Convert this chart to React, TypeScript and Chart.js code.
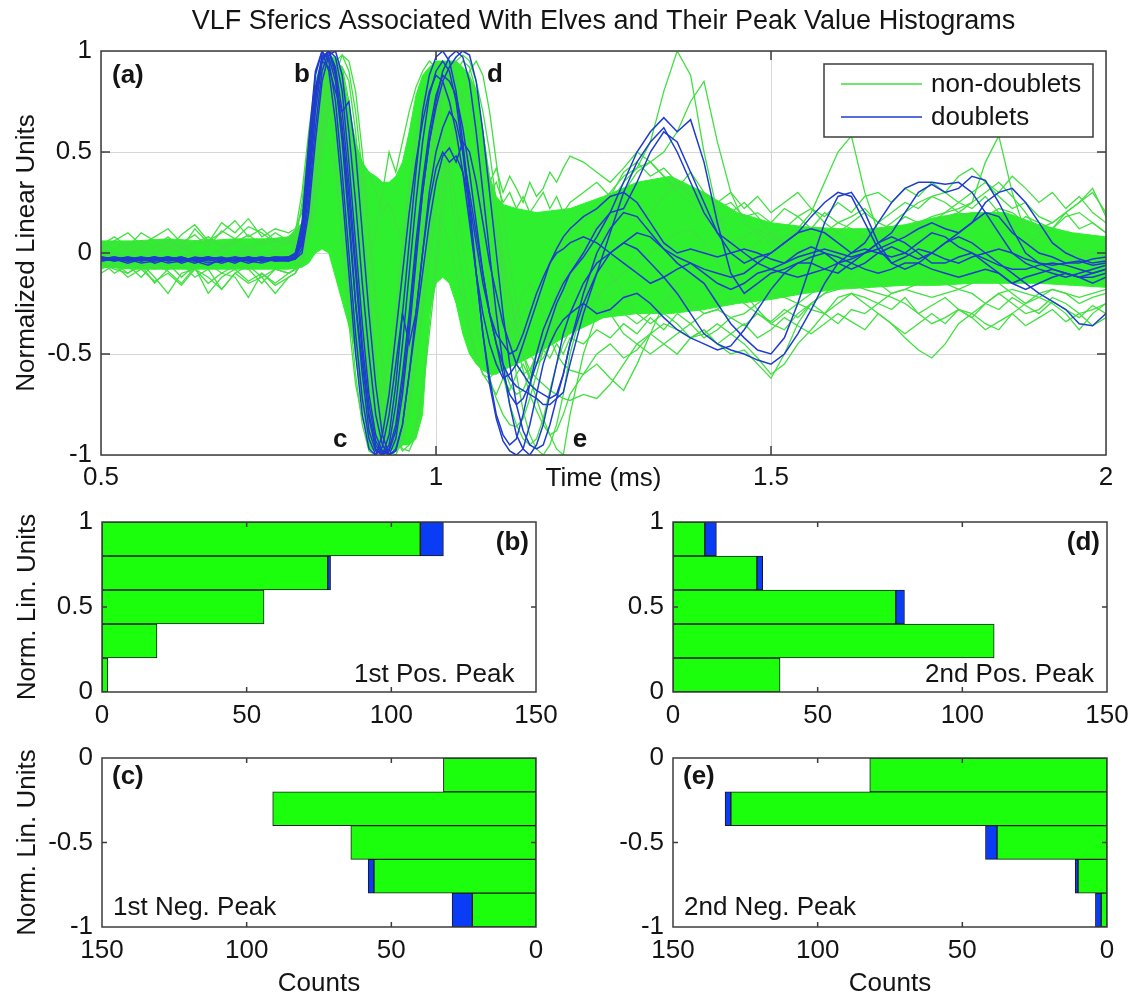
import React, { useEffect, useRef } from "react";
import { Chart, registerables } from "chart.js";

Chart.register(...registerables);

const FONT_FAMILY = '"Liberation Sans", Arial, Helvetica, sans-serif';
Chart.defaults.font.family = FONT_FAMILY;
const TEXT = "#141414";
const FRAME = "#3c3c3c";
const LINE_GREEN = "#40e040";
const BAND_GREEN = "#2ef02e";
const LINE_BLUE = "#1f3ccf";
const BAR_GREEN = "#1cff0c";
const BAR_BLUE = "#0a3cf5";
const BAR_EDGE = "#1a1a1a";

const TITLE = "VLF Sferics Associated With Elves and Their Peak Value Histograms";
const X_TITLE = "Time (ms)";
const Y_TITLE = "Normalized Linear Units";
const HIST_Y_TITLE = "Norm. Lin. Units";
const HIST_X_TITLE = "Counts";
const LEGEND_LABELS = ["non-doublets", "doublets"];

// ---------- tick values ----------
const X_TICKS = [0.5, 1, 1.5, 2];
const Y_TICKS = [-1, -0.5, 0, 0.5, 1];
const COUNT_TICKS = [0, 50, 100, 150];
const POS_TICKS = [0, 0.5, 1];
const NEG_TICKS = [-1, -0.5, 0];

// ---------- sample times (ms) ----------
const TIMES = [
  0.5, 0.52, 0.54, 0.56, 0.58, 0.6, 0.62, 0.64, 0.66, 0.68, 0.7, 0.72, 0.74, 0.76,
  0.78, 0.79, 0.8, 0.81, 0.82, 0.83, 0.84, 0.85, 0.86, 0.87, 0.88, 0.89, 0.9, 0.91, 0.92, 0.93, 0.94, 0.95, 0.96, 0.97,
  0.98, 0.99, 1.0, 1.01, 1.02, 1.03, 1.04, 1.05, 1.06, 1.07, 1.08, 1.09, 1.1, 1.11, 1.12, 1.13, 1.14, 1.15, 1.16, 1.17,
  1.18, 1.19, 1.2,
  1.22, 1.24, 1.26, 1.28, 1.3, 1.32, 1.34, 1.36, 1.38, 1.4, 1.42, 1.44, 1.46, 1.48, 1.5, 1.52, 1.54, 1.56, 1.58, 1.6,
  1.62, 1.64, 1.66, 1.68, 1.7, 1.72, 1.74, 1.76, 1.78, 1.8, 1.82, 1.84, 1.86, 1.88, 1.9, 1.92, 1.94, 1.96, 1.98, 2.0,
];

// dense core of the non-doublet bundle (upper / lower envelope)
const BAND_T = [
  0.5, 0.55, 0.6, 0.65, 0.7, 0.75, 0.78,
  0.8, 0.81, 0.82, 0.83, 0.84, 0.85, 0.86, 0.87, 0.88, 0.89,
  0.9, 0.91, 0.92, 0.93, 0.94, 0.95, 0.96, 0.97, 0.98, 0.99,
  1.0, 1.01, 1.02, 1.03, 1.04, 1.05, 1.06, 1.07, 1.08, 1.09,
  1.1, 1.12, 1.15,
  1.2, 1.25, 1.3, 1.35, 1.4, 1.45, 1.5, 1.55, 1.6, 1.65, 1.7, 1.75, 1.8, 1.85, 1.9, 1.95, 2.0,
];
const BAND_HI = [
  0.06, 0.06, 0.07, 0.06, 0.07, 0.07, 0.08,
  0.15, 0.45, 0.8, 0.95, 0.97, 0.97, 0.9, 0.72, 0.55, 0.45,
  0.4, 0.38, 0.35, 0.35, 0.38, 0.45, 0.6, 0.78, 0.88, 0.92,
  0.95, 0.95, 0.95, 0.95, 0.92, 0.88, 0.8, 0.6, 0.38, 0.28,
  0.24, 0.22, 0.2,
  0.22, 0.28, 0.35, 0.38, 0.3, 0.2, 0.15, 0.13, 0.12, 0.12, 0.14, 0.18, 0.2, 0.2, 0.14, 0.1, 0.08,
];
const BAND_LO = [
  -0.07, -0.08, -0.08, -0.08, -0.08, -0.08, -0.08,
  -0.07, -0.05, 0.0, 0.02, 0.0, -0.12, -0.24, -0.36, -0.48, -0.75,
  -0.97, -0.98, -0.98, -0.98, -0.97, -0.95, -0.95, -0.92, -0.8, -0.3,
  -0.15, -0.12, -0.15, -0.25, -0.4, -0.5, -0.55, -0.58, -0.6, -0.6,
  -0.58, -0.55, -0.5,
  -0.4, -0.32, -0.3, -0.3, -0.28, -0.25, -0.23, -0.2, -0.18, -0.17, -0.16, -0.16, -0.15, -0.15, -0.15, -0.16, -0.17,
];

// ---------- non-doublet traces ----------
const GREEN_1 = [
  0.0, 0.02, 0.05, 0.0, 0.03, 0.08, 0.02, 0.12, 0.05, 0.15, 0.1, 0.17, 0.08, 0.12,
  0.1, 0.12, 0.2, 0.35, 0.55, 0.7, 0.78, 0.72, 0.5, 0.2, -0.15, -0.45, -0.65, -0.75, -0.8, -0.72, -0.55, -0.3, 0.0, 0.3,
  0.55, 0.72, 0.8, 0.82, 0.75, 0.6, 0.4, 0.2, 0.0, -0.15, -0.25, -0.3, -0.35, -0.38, -0.35, -0.3, -0.25, -0.2, -0.12, -0.05,
  0.0, 0.05, 0.1,
  0.15, 0.22, 0.3, 0.38, 0.42, 0.55, 0.8, 1.0, 0.88, 0.5, 0.2, 0.05, 0.0, 0.05, 0.1, 0.05, 0.0, 0.02, 0.05, 0.1,
  0.05, 0.08, 0.12, 0.1, 0.05, 0.1, 0.15, 0.2, 0.25, 0.22, 0.28, 0.2, 0.1, 0.05, 0.08, 0.12, 0.18, 0.2, 0.15, 0.1,
];
const GREEN_2 = [
  -0.05, -0.08, -0.1, -0.05, -0.12, -0.2, -0.1, -0.08, -0.15, -0.1, -0.12, -0.22, -0.1, -0.15,
  -0.1, -0.08, -0.05, 0.1, 0.3, 0.55, 0.75, 0.88, 0.92, 0.85, 0.6, 0.25, -0.15, -0.5, -0.78, -0.92, -0.98, -0.95, -0.8, -0.55,
  -0.25, 0.05, 0.35, 0.6, 0.78, 0.9, 0.95, 0.92, 0.8, 0.6, 0.35, 0.1, -0.15, -0.4, -0.6, -0.78, -0.9, -0.97, -1.0, -0.95,
  -0.85, -0.7, -0.5,
  -0.25, 0.0, 0.15, 0.3, 0.4, 0.45, 0.5, 0.6, 0.75, 0.85, 0.55, 0.3, 0.15, 0.1, 0.05, 0.08, 0.12, 0.1, 0.05, 0.0,
  -0.02, 0.0, 0.05, 0.08, 0.1, 0.15, 0.18, 0.2, 0.22, 0.25, 0.3, 0.35, 0.28, 0.2, 0.1, 0.05, 0.0, 0.02, 0.0, -0.02,
];
const GREEN_3 = [
  0.02, 0.0, -0.02, 0.03, 0.0, 0.02, 0.05, 0.0, -0.03, 0.02, 0.04, 0.0, 0.06, 0.03,
  0.05, 0.1, 0.3, 0.6, 0.85, 0.95, 0.85, 0.6, 0.25, -0.15, -0.5, -0.75, -0.88, -0.92, -0.85, -0.65, -0.35, 0.0, 0.3, 0.55,
  0.72, 0.78, 0.72, 0.55, 0.35, 0.1, -0.15, -0.35, -0.5, -0.6, -0.62, -0.58, -0.5, -0.4, -0.3, -0.2, -0.15, -0.2, -0.3, -0.42,
  -0.5, -0.55, -0.58,
  -0.6, -0.55, -0.62, -0.68, -0.55, -0.4, -0.25, -0.15, -0.1, -0.15, -0.2, -0.15, -0.1, -0.05, 0.0, 0.05, 0.12, 0.2, 0.35, 0.5,
  0.58, 0.3, 0.1, 0.0, -0.05, -0.02, 0.0, 0.05, 0.02, -0.02, 0.0, 0.03, 0.0, -0.03, -0.05, -0.08, -0.05, -0.02, 0.0, -0.03,
];
const GREEN_4 = [
  0.03, 0.0, 0.02, -0.02, 0.0, 0.03, 0.0, -0.04, 0.02, 0.0, -0.02, 0.03, 0.0, 0.02,
  0.0, 0.03, 0.1, 0.3, 0.5, 0.6, 0.55, 0.4, 0.1, -0.25, -0.6, -0.85, -0.98, -1.0, -0.95, -0.88, -0.8, -0.65, -0.45, -0.2,
  0.1, 0.4, 0.65, 0.8, 0.88, 0.85, 0.78, 0.7, 0.55, 0.35, 0.12, -0.1, -0.3, -0.45, -0.55, -0.6, -0.58, -0.5, -0.4, -0.3,
  -0.2, -0.12, -0.05,
  0.0, -0.05, -0.1, -0.2, -0.3, -0.35, -0.3, -0.35, -0.42, -0.38, -0.45, -0.5, -0.48, -0.55, -0.62, -0.5, -0.35, -0.25, -0.2, -0.15,
  -0.1, -0.05, 0.0, 0.05, 0.1, 0.12, 0.15, 0.18, 0.2, 0.25, 0.45, 0.58, 0.3, 0.1, 0.0, -0.05, -0.02, 0.0, -0.03, -0.05,
];
const GREEN_5 = [
  -0.05, -0.03, -0.06, -0.04, -0.08, -0.05, -0.12, -0.06, -0.05, -0.1, -0.06, -0.08, -0.15, -0.08,
  -0.1, -0.08, -0.02, 0.15, 0.45, 0.7, 0.85, 0.9, 0.8, 0.55, 0.2, -0.2, -0.55, -0.8, -0.95, -1.0, -0.98, -0.9, -0.75, -0.55,
  -0.3, -0.05, 0.2, 0.4, 0.55, 0.62, 0.65, 0.62, 0.55, 0.45, 0.3, 0.12, -0.05, -0.2, -0.35, -0.5, -0.62, -0.72, -0.82, -0.9,
  -0.97, -1.0, -0.8,
  -0.5, -0.3, -0.25, -0.3, -0.35, -0.3, -0.25, -0.2, -0.25, -0.3, -0.28, -0.22, -0.25, -0.3, -0.35, -0.3, -0.25, -0.28, -0.3, -0.25,
  -0.2, -0.25, -0.3, -0.35, -0.42, -0.48, -0.52, -0.45, -0.35, -0.3, -0.25, -0.2, -0.25, -0.3, -0.28, -0.22, -0.25, -0.3, -0.28, -0.25,
];
const GREEN_6 = [
  0.0, -0.02, 0.0, 0.02, -0.03, 0.0, 0.02, 0.0, -0.02, 0.03, 0.0, 0.02, -0.02, 0.0,
  0.0, 0.02, 0.08, 0.25, 0.5, 0.72, 0.88, 0.95, 0.92, 0.75, 0.45, 0.1, -0.25, -0.55, -0.75, -0.85, -0.88, -0.8, -0.6, -0.3,
  0.0, 0.3, 0.55, 0.75, 0.88, 0.95, 0.98, 0.95, 0.85, 0.7, 0.5, 0.25, 0.0, -0.2, -0.38, -0.5, -0.58, -0.62, -0.65, -0.68,
  -0.7, -0.72, -0.73,
  -0.7, -0.72, -0.65, -0.55, -0.45, -0.4, -0.35, -0.38, -0.42, -0.4, -0.35, -0.4, -0.45, -0.52, -0.6, -0.55, -0.45, -0.38, -0.3, -0.22,
  -0.2, -0.22, -0.25, -0.2, -0.18, -0.2, -0.22, -0.2, -0.18, -0.2, -0.25, -0.2, -0.18, -0.2, -0.22, -0.25, -0.3, -0.38, -0.3, -0.25,
];
const GREEN_7 = [
  0.03, 0.05, 0.02, 0.04, 0.0, 0.06, 0.03, 0.05, 0.08, 0.04, 0.06, 0.03, 0.05, 0.1,
  0.06, 0.05, 0.05, 0.08, 0.2, 0.45, 0.7, 0.88, 0.98, 0.95, 0.8, 0.5, 0.15, -0.2, -0.5, -0.75, -0.9, -0.97, -0.98, -0.9,
  -0.7, -0.4, -0.1, 0.2, 0.45, 0.65, 0.8, 0.9, 0.95, 0.88, 0.7, 0.45, 0.2, -0.05, -0.25, -0.4, -0.5, -0.55, -0.52, -0.45,
  -0.35, -0.25, -0.15,
  0.0, 0.15, 0.25, 0.35, 0.42, 0.45, 0.38, 0.3, 0.25, 0.18, 0.1, 0.05, 0.08, 0.12, 0.08, 0.05, 0.0, 0.05, 0.1, 0.15,
  0.12, 0.08, 0.1, 0.15, 0.2, 0.25, 0.28, 0.25, 0.2, 0.15, 0.18, 0.22, 0.2, 0.15, 0.12, 0.15, 0.2, 0.25, 0.3, 0.2,
];
const GREEN_8 = [
  -0.02, 0.0, -0.04, -0.02, 0.0, -0.05, -0.02, 0.0, -0.03, -0.06, -0.02, 0.0, -0.03, -0.05,
  -0.02, 0.05, 0.25, 0.55, 0.8, 0.9, 0.75, 0.45, 0.05, -0.35, -0.65, -0.82, -0.9, -0.85, -0.7, -0.5, -0.25, 0.05, 0.35, 0.6,
  0.75, 0.82, 0.78, 0.65, 0.45, 0.25, 0.05, -0.15, -0.35, -0.5, -0.62, -0.72, -0.8, -0.85, -0.86, -0.82, -0.72, -0.6, -0.48, -0.38,
  -0.3, -0.25, -0.2,
  -0.15, -0.2, -0.3, -0.4, -0.45, -0.5, -0.45, -0.4, -0.35, -0.3, -0.28, -0.32, -0.3, -0.25, -0.2, -0.22, -0.25, -0.2, -0.15, -0.12,
  -0.15, -0.18, -0.2, -0.22, -0.25, -0.3, -0.35, -0.32, -0.28, -0.3, -0.35, -0.38, -0.3, -0.25, -0.2, -0.18, -0.2, -0.22, -0.2, -0.18,
];
const GREEN_9 = [
  0.05, 0.02, 0.04, 0.06, 0.03, 0.05, 0.02, 0.04, 0.07, 0.03, 0.05, 0.09, 0.04, 0.06,
  0.05, 0.04, 0.1, 0.35, 0.65, 0.82, 0.9, 0.85, 0.65, 0.35, 0.0, -0.35, -0.62, -0.82, -0.92, -0.95, -0.9, -0.75, -0.5, -0.2,
  0.15, 0.45, 0.68, 0.82, 0.9, 0.88, 0.75, 0.55, 0.3, 0.05, -0.2, -0.4, -0.55, -0.65, -0.7, -0.68, -0.6, -0.5, -0.4, -0.3,
  -0.2, -0.12, -0.05,
  0.05, 0.12, 0.18, 0.2, 0.15, 0.2, 0.28, 0.35, 0.3, 0.22, 0.15, 0.2, 0.25, 0.18, 0.1, 0.12, 0.18, 0.22, 0.15, 0.1,
  0.15, 0.2, 0.15, 0.12, 0.18, 0.15, 0.1, 0.15, 0.2, 0.18, 0.15, 0.1, 0.12, 0.18, 0.15, 0.12, 0.2, 0.25, 0.32, 0.18,
];
const GREEN_10 = [
  -0.08, -0.05, -0.1, -0.06, -0.15, -0.08, -0.05, -0.12, -0.08, -0.18, -0.1, -0.06, -0.12, -0.2,
  -0.12, -0.1, 0.0, 0.2, 0.4, 0.62, 0.8, 0.88, 0.85, 0.65, 0.3, -0.1, -0.45, -0.72, -0.9, -0.98, -1.0, -0.92, -0.7, -0.4,
  -0.05, 0.3, 0.58, 0.78, 0.9, 0.95, 0.9, 0.75, 0.5, 0.2, -0.1, -0.38, -0.6, -0.75, -0.85, -0.92, -0.95, -0.92, -0.82, -0.68,
  -0.55, -0.45, -0.38,
  -0.3, -0.22, -0.15, -0.1, -0.05, 0.0, 0.05, 0.1, 0.12, 0.05, -0.05, -0.12, -0.2, -0.28, -0.35, -0.38, -0.3, -0.25, -0.2, -0.18,
  -0.15, -0.12, -0.15, -0.2, -0.18, -0.15, -0.12, -0.15, -0.18, -0.15, -0.12, -0.15, -0.2, -0.25, -0.22, -0.18, -0.2, -0.25, -0.22, -0.2,
];
const GREEN_11 = [
  0.04, 0.08, 0.03, 0.1, 0.06, 0.02, 0.09, 0.14, 0.06, 0.1, 0.16, 0.08, 0.12, 0.06,
  0.05, 0.08, 0.15, 0.35, 0.6, 0.78, 0.85, 0.8, 0.65, 0.5, 0.42, 0.35, 0.4, 0.3, 0.2, 0.25, 0.15, 0.05, 0.2, 0.45,
  0.7, 0.85, 0.9, 0.88, 0.8, 0.65, 0.5, 0.4, 0.32, 0.38, 0.3, 0.35, 0.25, 0.3, 0.22, 0.28, 0.2, 0.25, 0.3, 0.22,
  0.28, 0.2, 0.25,
  0.3, 0.35, 0.28, 0.4, 0.45, 0.38, 0.42, 0.35, 0.28, 0.3, 0.22, 0.25, 0.18, 0.2, 0.15, 0.22, 0.18, 0.12, 0.2, 0.15,
  0.18, 0.22, 0.15, 0.2, 0.25, 0.22, 0.28, 0.3, 0.25, 0.3, 0.35, 0.28, 0.22, 0.25, 0.18, 0.15, 0.2, 0.12, 0.15, 0.1,
];
const GREEN_12 = [
  -0.1, -0.06, -0.12, -0.08, -0.14, -0.1, -0.16, -0.08, -0.12, -0.18, -0.1, -0.15, -0.12, -0.08,
  -0.1, -0.08, 0.0, 0.15, 0.35, 0.55, 0.7, 0.78, 0.72, 0.55, 0.3, 0.0, -0.3, -0.55, -0.72, -0.8, -0.75, -0.6, -0.4, -0.2,
  -0.05, 0.1, 0.2, 0.15, 0.05, -0.1, -0.25, -0.4, -0.52, -0.6, -0.65, -0.7, -0.62, -0.68, -0.6, -0.55, -0.62, -0.55, -0.48, -0.52,
  -0.45, -0.5, -0.42,
  -0.45, -0.38, -0.42, -0.35, -0.4, -0.32, -0.38, -0.3, -0.35, -0.42, -0.38, -0.32, -0.36, -0.3, -0.34, -0.28, -0.32, -0.25, -0.3, -0.35,
  -0.28, -0.3, -0.25, -0.28, -0.22, -0.3, -0.26, -0.22, -0.28, -0.32, -0.25, -0.28, -0.22, -0.26, -0.3, -0.24, -0.28, -0.32, -0.26, -0.3,
];
const GREEN_13 = [
  0.02, 0.06, 0.1, 0.04, 0.08, 0.12, 0.05, 0.09, 0.03, 0.11, 0.07, 0.13, 0.1, 0.05,
  0.08, 0.1, 0.22, 0.5, 0.8, 0.92, 0.88, 0.7, 0.45, 0.2, 0.05, -0.1, -0.05, 0.1, 0.3, 0.5, 0.4, 0.55, 0.7, 0.82,
  0.9, 0.95, 0.92, 0.85, 0.72, 0.55, 0.42, 0.5, 0.38, 0.45, 0.35, 0.42, 0.3, 0.38, 0.32, 0.25, 0.35, 0.28, 0.32, 0.4,
  0.35, 0.42, 0.48,
  0.45, 0.4, 0.35, 0.42, 0.5, 0.45, 0.38, 0.32, 0.4, 0.3, 0.25, 0.3, 0.22, 0.28, 0.2, 0.25, 0.3, 0.22, 0.18, 0.25,
  0.2, 0.28, 0.3, 0.25, 0.32, 0.28, 0.35, 0.3, 0.38, 0.42, 0.35, 0.3, 0.38, 0.32, 0.25, 0.3, 0.22, 0.28, 0.2, 0.15,
];
const GREEN_14 = [
  -0.04, -0.1, -0.06, -0.12, -0.05, -0.09, -0.15, -0.07, -0.2, -0.12, -0.08, -0.14, -0.1, -0.16,
  -0.12, -0.1, -0.05, 0.1, 0.32, 0.6, 0.82, 0.95, 0.98, 0.9, 0.7, 0.4, 0.05, -0.3, -0.6, -0.8, -0.92, -0.98, -0.95, -0.85,
  -0.65, -0.35, 0.0, 0.3, 0.55, 0.7, 0.78, 0.75, 0.65, 0.5, 0.3, 0.1, -0.1, -0.3, -0.45, -0.58, -0.7, -0.78, -0.85, -0.9,
  -0.88, -0.8, -0.7,
  -0.6, -0.5, -0.45, -0.52, -0.48, -0.4, -0.45, -0.5, -0.42, -0.38, -0.45, -0.4, -0.35, -0.42, -0.38, -0.32, -0.36, -0.4, -0.35, -0.3,
  -0.34, -0.38, -0.3, -0.35, -0.4, -0.35, -0.3, -0.35, -0.28, -0.32, -0.38, -0.34, -0.3, -0.36, -0.32, -0.28, -0.34, -0.3, -0.36, -0.32,
];

// ---------- doublet traces ----------
const BLUE_1 = [
  -0.03, -0.02, -0.04, -0.03, -0.02, -0.04, -0.03, -0.05, -0.03, -0.02, -0.04, -0.03, -0.02, -0.03,
  -0.03, -0.02, 0.05, 0.35, 0.75, 0.97, 1.0, 0.9, 0.6, 0.2, -0.25, -0.6, -0.88, -0.98, -1.0, -0.95, -0.75, -0.45, -0.1, 0.25,
  0.55, 0.78, 0.9, 0.95, 0.9, 0.75, 0.5, 0.2, -0.1, -0.4, -0.62, -0.8, -0.9, -0.95, -0.92, -0.8, -0.65, -0.5, -0.38, -0.3,
  -0.22, -0.15, -0.1,
  -0.02, 0.08, 0.2, 0.35, 0.5, 0.6, 0.67, 0.6, 0.66, 0.45, 0.15, -0.1, -0.2, -0.15, -0.1, -0.08, -0.05, -0.05, -0.08, -0.1,
  -0.05, 0.0, 0.05, 0.08, 0.05, 0.0, -0.05, -0.05, -0.02, 0.0, -0.03, -0.06, -0.08, -0.08, -0.06, -0.05, -0.06, -0.08, -0.1, -0.08,
];
const BLUE_2 = [
  -0.04, -0.03, -0.03, -0.05, -0.04, -0.03, -0.02, -0.04, -0.06, -0.03, -0.04, -0.02, -0.03, -0.04,
  -0.04, -0.03, 0.02, 0.25, 0.62, 0.9, 1.0, 0.97, 0.8, 0.45, 0.05, -0.35, -0.7, -0.9, -0.98, -1.0, -0.92, -0.7, -0.4, -0.05,
  0.3, 0.55, 0.75, 0.9, 0.97, 1.0, 0.97, 0.85, 0.6, 0.3, 0.0, -0.3, -0.55, -0.75, -0.9, -0.97, -1.0, -0.95, -0.85, -0.7,
  -0.55, -0.4, -0.3,
  -0.15, -0.05, 0.0, 0.05, 0.02, -0.05, -0.12, -0.2, -0.3, -0.4, -0.45, -0.48, -0.5, -0.53, -0.55, -0.5, -0.4, -0.28, -0.15, -0.05,
  0.0, 0.02, 0.0, -0.02, 0.0, 0.05, 0.1, 0.08, 0.03, 0.0, -0.05, -0.1, -0.15, -0.12, -0.1, -0.08, -0.1, -0.12, -0.1, -0.08,
];
const BLUE_3 = [
  -0.02, -0.03, -0.04, -0.02, -0.03, -0.05, -0.04, -0.03, -0.02, -0.04, -0.03, -0.05, -0.03, -0.02,
  -0.02, 0.0, 0.12, 0.5, 0.88, 1.0, 0.95, 0.75, 0.4, 0.0, -0.4, -0.72, -0.92, -1.0, -0.96, -0.8, -0.55, -0.3, -0.45, -0.3,
  0.0, 0.3, 0.5, 0.62, 0.7, 0.65, 0.5, 0.3, 0.1, -0.1, -0.3, -0.45, -0.6, -0.7, -0.75, -0.72, -0.65, -0.55, -0.45, -0.35,
  -0.25, -0.18, -0.1,
  0.0, 0.12, 0.2, 0.22, 0.35, 0.5, 0.6, 0.55, 0.4, 0.25, 0.1, 0.0, -0.05, -0.02, 0.0, 0.05, 0.1, 0.18, 0.25, 0.3,
  0.28, 0.15, 0.02, -0.05, -0.02, 0.02, 0.0, -0.03, -0.05, -0.02, 0.0, 0.02, 0.0, -0.03, -0.05, -0.06, -0.05, -0.04, -0.06, -0.05,
];
const BLUE_4 = [
  -0.03, -0.04, -0.02, -0.03, -0.04, -0.02, -0.05, -0.03, -0.04, -0.03, -0.02, -0.04, -0.05, -0.03,
  -0.03, -0.03, 0.0, 0.2, 0.55, 0.85, 0.98, 1.0, 0.88, 0.6, 0.25, -0.15, -0.5, -0.8, -0.95, -1.0, -0.97, -0.85, -0.6, -0.3,
  0.0, 0.25, 0.42, 0.5, 0.45, 0.48, 0.4, 0.25, 0.05, -0.15, -0.3, -0.4, -0.45, -0.5, -0.48, -0.4, -0.3, -0.2, -0.12, -0.05,
  0.0, 0.02, 0.05,
  0.08, 0.05, 0.0, -0.05, -0.1, -0.15, -0.12, -0.08, -0.05, -0.08, -0.1, -0.12, -0.1, -0.05, 0.0, 0.05, 0.1, 0.12, 0.1, 0.05,
  0.0, 0.05, 0.15, 0.25, 0.32, 0.35, 0.35, 0.34, 0.35, 0.3, 0.2, 0.1, 0.0, -0.05, -0.08, -0.1, -0.12, -0.1, -0.08, -0.06,
];
const BLUE_5 = [
  -0.03, -0.02, -0.03, -0.04, -0.02, -0.03, -0.04, -0.02, -0.03, -0.05, -0.03, -0.04, -0.03, -0.02,
  -0.03, -0.02, 0.08, 0.42, 0.8, 0.98, 0.97, 0.85, 0.55, 0.15, -0.25, -0.55, -0.8, -0.95, -1.0, -0.98, -0.88, -0.65, -0.35, 0.0,
  0.3, 0.55, 0.72, 0.85, 0.92, 0.97, 1.0, 0.98, 0.85, 0.6, 0.3, 0.0, -0.3, -0.55, -0.75, -0.88, -0.95, -0.97, -0.95, -0.85,
  -0.72, -0.6, -0.45,
  -0.2, 0.0, 0.12, 0.2, 0.18, 0.1, 0.02, -0.05, -0.1, -0.15, -0.25, -0.35, -0.42, -0.48, -0.5, -0.42, -0.25, -0.05, 0.15, 0.28,
  0.3, 0.2, 0.05, -0.05, -0.08, -0.05, 0.0, 0.05, 0.08, 0.05, 0.0, -0.05, -0.1, -0.15, -0.2, -0.24, -0.28, -0.35, -0.36, -0.3,
];
const BLUE_6 = [
  -0.04, -0.03, -0.05, -0.03, -0.02, -0.04, -0.03, -0.03, -0.05, -0.04, -0.02, -0.03, -0.04, -0.03,
  -0.04, -0.02, 0.1, 0.45, 0.82, 0.95, 0.92, 0.8, 0.7, 0.75, 0.5, 0.1, -0.3, -0.65, -0.9, -1.0, -0.98, -0.85, -0.6, -0.35,
  -0.1, 0.15, 0.35, 0.48, 0.52, 0.45, 0.55, 0.5, 0.35, 0.15, -0.05, -0.2, -0.35, -0.45, -0.55, -0.6, -0.65, -0.68, -0.7, -0.72,
  -0.7, -0.6, -0.45,
  -0.25, -0.1, 0.0, 0.05, 0.1, 0.08, 0.02, -0.02, -0.05, -0.1, -0.15, -0.18, -0.15, -0.1, -0.08, -0.1, -0.12, -0.1, -0.08, -0.05,
  -0.03, 0.0, 0.02, 0.05, 0.08, 0.12, 0.15, 0.12, 0.1, 0.15, 0.25, 0.3, 0.32, 0.25, 0.15, 0.05, 0.0, -0.03, -0.05, -0.04,
];
const BLUE_7 = [
  -0.02, -0.04, -0.03, -0.02, -0.05, -0.03, -0.02, -0.04, -0.03, -0.03, -0.05, -0.02, -0.04, -0.03,
  -0.02, -0.01, 0.15, 0.55, 0.9, 1.0, 0.9, 0.65, 0.3, -0.1, -0.5, -0.8, -0.97, -1.0, -0.9, -0.7, -0.4, -0.1, 0.2, 0.45,
  0.65, 0.8, 0.88, 0.85, 0.75, 0.6, 0.4, 0.15, -0.1, -0.3, -0.45, -0.55, -0.62, -0.6, -0.55, -0.45, -0.35, -0.25, -0.15, -0.05,
  0.02, 0.08, 0.12,
  0.18, 0.22, 0.28, 0.3, 0.25, 0.15, 0.05, 0.0, 0.02, 0.0, -0.02, 0.0, 0.02, 0.0, -0.03, -0.05, -0.02, 0.0, 0.02, 0.0,
  -0.02, 0.0, 0.05, 0.1, 0.2, 0.3, 0.34, 0.3, 0.32, 0.38, 0.36, 0.25, 0.12, 0.0, -0.05, -0.08, -0.1, -0.12, -0.12, -0.1,
];
const BLUE_8 = [
  -0.03, -0.03, -0.02, -0.04, -0.03, -0.02, -0.03, -0.04, -0.02, -0.03, -0.04, -0.03, -0.02, -0.04,
  -0.03, -0.02, 0.04, 0.3, 0.7, 0.95, 1.0, 0.92, 0.7, 0.35, -0.05, -0.45, -0.75, -0.93, -0.99, -0.97, -0.85, -0.6, -0.3, 0.05,
  0.35, 0.6, 0.78, 0.88, 0.85, 0.78, 0.62, 0.4, 0.15, -0.1, -0.3, -0.45, -0.55, -0.62, -0.66, -0.68, -0.7, -0.72, -0.75, -0.75,
  -0.72, -0.69, -0.55,
  -0.3, -0.1, 0.1, 0.3, 0.45, 0.55, 0.62, 0.5, 0.35, 0.2, 0.1, 0.05, 0.0, -0.05, -0.08, -0.05, 0.0, 0.03, 0.0, -0.05,
  -0.08, -0.05, 0.0, 0.03, 0.0, -0.03, 0.0, 0.05, 0.1, 0.15, 0.2, 0.18, 0.1, 0.05, 0.0, -0.02, -0.05, -0.05, -0.03, -0.02,
];
const BLUE_9 = [
  -0.02, -0.03, -0.04, -0.03, -0.03, -0.02, -0.04, -0.03, -0.02, -0.04, -0.03, -0.02, -0.04, -0.03,
  -0.02, -0.01, 0.06, 0.38, 0.78, 0.96, 1.0, 0.88, 0.62, 0.28, -0.1, -0.5, -0.82, -0.97, -1.0, -0.9, -0.65, -0.3, 0.05, 0.4,
  0.7, 0.88, 0.97, 1.0, 0.95, 0.8, 0.55, 0.25, -0.1, -0.4, -0.65, -0.82, -0.93, -0.98, -1.0, -0.97, -0.85, -0.7, -0.55, -0.45,
  -0.38, -0.33, -0.3,
  -0.25, -0.3, -0.28, -0.22, -0.2, -0.25, -0.32, -0.38, -0.42, -0.45, -0.48, -0.46, -0.38, -0.28, -0.18, -0.1, -0.05, -0.02, 0.0, -0.02,
  -0.05, -0.08, -0.1, -0.08, -0.05, -0.05, -0.08, -0.1, -0.12, -0.1, -0.08, -0.1, -0.15, -0.18, -0.15, -0.12, -0.1, -0.12, -0.15, -0.12,
];

const NON_DOUBLETS = [
  GREEN_1, GREEN_2, GREEN_3, GREEN_4, GREEN_5, GREEN_6, GREEN_7,
  GREEN_8, GREEN_9, GREEN_10, GREEN_11, GREEN_12, GREEN_13, GREEN_14,
];
const DOUBLETS = [BLUE_1, BLUE_2, BLUE_3, BLUE_4, BLUE_5, BLUE_6, BLUE_7, BLUE_8, BLUE_9];

// ---------- histograms (bin centres, counts) ----------
const POS_BINS = [0.1, 0.3, 0.5, 0.7, 0.9];
const NEG_BINS = [-0.1, -0.3, -0.5, -0.7, -0.9];
const FIRST_POS_NON = [2, 19, 56, 78, 110];
const FIRST_POS_DBL = [0, 0, 0, 1, 8];
const SECOND_POS_NON = [37, 111, 77, 29, 11];
const SECOND_POS_DBL = [0, 0, 3, 2, 4];
const FIRST_NEG_NON = [32, 91, 64, 56, 22];
const FIRST_NEG_DBL = [0, 0, 0, 2, 7];
const SECOND_NEG_NON = [82, 130, 38, 10, 2];
const SECOND_NEG_DBL = [0, 2, 4, 1, 2];

// annotation anchors (data units) for the peak markers in panel (a)
const PEAK_MARKS = [
  { label: "b", t: 0.8, v: 0.88 },
  { label: "d", t: 1.088, v: 0.88 },
  { label: "c", t: 0.857, v: -0.925 },
  { label: "e", t: 1.215, v: -0.925 },
];

// ---------- helpers ----------
const xy = (t: number[], v: number[]) => v.map((y, i) => ({ x: t[i], y }));
const plainLabel = (v: any) => String(v);

function font(ctx: CanvasRenderingContext2D, size: number, bold = false) {
  ctx.font = `${bold ? "bold " : ""}${size}px ${FONT_FAMILY}`;
  ctx.fillStyle = TEXT;
}

function drawFrame(chart: any, tickLen: number) {
  const ctx: CanvasRenderingContext2D = chart.ctx;
  const a = chart.chartArea;
  const xs = chart.scales.x;
  const ys = chart.scales.y;
  ctx.save();
  ctx.strokeStyle = FRAME;
  ctx.lineWidth = 1.5;
  ctx.beginPath();
  xs.ticks.forEach((t: any) => {
    const p = xs.getPixelForValue(t.value);
    if (Math.abs(p - a.left) < 2 || Math.abs(p - a.right) < 2) return;
    ctx.moveTo(p, a.bottom);
    ctx.lineTo(p, a.bottom - tickLen);
    ctx.moveTo(p, a.top);
    ctx.lineTo(p, a.top + tickLen);
  });
  ys.ticks.forEach((t: any) => {
    const p = ys.getPixelForValue(t.value);
    if (Math.abs(p - a.top) < 2 || Math.abs(p - a.bottom) < 2) return;
    ctx.moveTo(a.left, p);
    ctx.lineTo(a.left + tickLen, p);
    ctx.moveTo(a.right, p);
    ctx.lineTo(a.right - tickLen, p);
  });
  ctx.stroke();
  ctx.strokeRect(a.left, a.top, a.right - a.left, a.bottom - a.top);
  ctx.restore();
}

const setTicks = (vals: number[]) => (s: any) => {
  s.ticks = vals.map((value) => ({ value }));
};

// force axis box sizes and drop label-overflow padding so the plot area lands exactly
const fitX = (h: number) => (s: any) => {
  s.height = h;
  s.paddingLeft = 0;
  s.paddingRight = 0;
};
const fitY = (w: number) => (s: any) => {
  s.width = w;
  s.paddingTop = 0;
  s.paddingBottom = 0;
};

// ---------- main chart ----------
function makeMain(W: number, H: number) {
  const area = { left: 101, top: 51, right: 1106, bottom: 455 };
  const datasets: any[] = [
    {
      label: "core-hi",
      data: xy(BAND_T, BAND_HI),
      borderColor: BAND_GREEN,
      backgroundColor: BAND_GREEN,
      borderWidth: 1,
      pointRadius: 0,
      fill: "+1",
      order: 30,
    },
    {
      label: "core-lo",
      data: xy(BAND_T, BAND_LO),
      borderColor: BAND_GREEN,
      borderWidth: 1,
      pointRadius: 0,
      fill: false,
      order: 30,
    },
  ];
  NON_DOUBLETS.forEach((v, i) =>
    datasets.push({
      label: `non-doublet ${i + 1}`,
      data: xy(TIMES, v),
      borderColor: LINE_GREEN,
      borderWidth: 1.3,
      pointRadius: 0,
      fill: false,
      order: 20,
    })
  );
  DOUBLETS.forEach((v, i) =>
    datasets.push({
      label: `doublet ${i + 1}`,
      data: xy(TIMES, v),
      borderColor: LINE_BLUE,
      borderWidth: 1.5,
      pointRadius: 0,
      fill: false,
      order: 10,
    })
  );

  const decor = {
    id: "mainDecor",
    afterDraw(chart: any) {
      const ctx: CanvasRenderingContext2D = chart.ctx;
      const a = chart.chartArea;
      const xs = chart.scales.x;
      const ys = chart.scales.y;
      drawFrame(chart, 9);
      ctx.save();
      ctx.textBaseline = "middle";
      font(ctx, 27);
      ctx.textAlign = "center";
      ctx.fillText(TITLE, (a.left + a.right) / 2, 22);
      font(ctx, 26);
      ctx.fillText(X_TITLE, (a.left + a.right) / 2, a.bottom + 24);
      ctx.save();
      ctx.translate(27, (a.top + a.bottom) / 2);
      ctx.rotate(-Math.PI / 2);
      ctx.fillText(Y_TITLE, 0, 0);
      ctx.restore();
      font(ctx, 26, true);
      ctx.textAlign = "left";
      ctx.fillText("(a)", a.left + 11, a.top + 25);
      ctx.textAlign = "center";
      PEAK_MARKS.forEach((m) => ctx.fillText(m.label, xs.getPixelForValue(m.t), ys.getPixelForValue(m.v)));
      // legend
      const lx = a.right - 282;
      const ly = a.top + 13;
      const lw = 269;
      const lh = 73;
      ctx.fillStyle = "#ffffff";
      ctx.fillRect(lx, ly, lw, lh);
      ctx.strokeStyle = FRAME;
      ctx.lineWidth = 1.5;
      ctx.strokeRect(lx, ly, lw, lh);
      const entries = [
        { label: LEGEND_LABELS[0], color: LINE_GREEN, y: ly + 20 },
        { label: LEGEND_LABELS[1], color: LINE_BLUE, y: ly + 53 },
      ];
      entries.forEach((e) => {
        ctx.strokeStyle = e.color;
        ctx.lineWidth = 1.5;
        ctx.beginPath();
        ctx.moveTo(lx + 17, e.y);
        ctx.lineTo(lx + 98, e.y);
        ctx.stroke();
        font(ctx, 26);
        ctx.textAlign = "left";
        ctx.fillText(e.label, lx + 107, e.y + 1);
      });
      ctx.restore();
    },
  };

  return {
    type: "line",
    data: { datasets },
    options: {
      animation: false,
      responsive: false,
      maintainAspectRatio: false,
      devicePixelRatio: 1,
      events: [],
      layout: { padding: { left: 0, top: area.top, right: W - area.right, bottom: 0 } },
      plugins: { legend: { display: false }, tooltip: { enabled: false }, title: { display: false } },
      scales: {
        x: {
          type: "linear",
          min: 0.5,
          max: 2,
          afterBuildTicks: setTicks(X_TICKS),
          ticks: { font: { size: 26 }, color: TEXT, padding: 7, maxRotation: 0, autoSkip: false, callback: plainLabel },
          grid: { color: "#d6d6d6", lineWidth: 1, drawTicks: false },
          border: { display: false },
          afterFit: fitX(H - area.bottom),
        },
        y: {
          type: "linear",
          min: -1,
          max: 1,
          afterBuildTicks: setTicks(Y_TICKS),
          ticks: { font: { size: 26 }, color: TEXT, padding: 9, autoSkip: false, callback: plainLabel },
          grid: { color: "#d6d6d6", lineWidth: 1, drawTicks: false },
          border: { display: false },
          afterFit: fitY(area.left),
        },
      },
    },
    plugins: [decor],
  };
}

// ---------- histogram charts ----------
type HistSpec = {
  W: number;
  H: number;
  area: { left: number; top: number; right: number; bottom: number };
  bins: number[];
  non: number[];
  dbl: number[];
  negative: boolean;
  panel: string;
  peak: string;
  yTitle: boolean;
  counts: boolean;
  labelPad: number;
};

function makeHist(spec: HistSpec) {
  const { W, H, area, bins, non, dbl, negative } = spec;
  const common = {
    borderColor: BAR_EDGE,
    borderWidth: 1,
    borderSkipped: false,
    barPercentage: 1,
    categoryPercentage: 1,
  };
  const datasets = [
    { label: LEGEND_LABELS[0], data: bins.map((y, i) => ({ x: non[i], y })), backgroundColor: BAR_GREEN, ...common },
    {
      label: LEGEND_LABELS[1],
      data: bins.map((y, i) => ({ x: dbl[i], y })).filter((p) => p.x > 0),
      backgroundColor: BAR_BLUE,
      ...common,
    },
  ];
  const decor = {
    id: "histDecor",
    afterDraw(chart: any) {
      const ctx: CanvasRenderingContext2D = chart.ctx;
      const a = chart.chartArea;
      drawFrame(chart, 5);
      ctx.save();
      ctx.textBaseline = "middle";
      font(ctx, 26, true);
      if (negative) {
        ctx.textAlign = "left";
        ctx.fillText(spec.panel, a.left + 10, a.top + 19);
        font(ctx, 26);
        ctx.fillText(spec.peak, a.left + 11, a.bottom - 19);
      } else {
        ctx.textAlign = "right";
        ctx.fillText(spec.panel, a.right - 7, a.top + 21);
        font(ctx, 26);
        ctx.textAlign = "left";
        ctx.fillText(spec.peak, a.left + 252, a.bottom - 17);
      }
      if (spec.counts) {
        ctx.textAlign = "center";
        ctx.fillText(HIST_X_TITLE, (a.left + a.right) / 2, a.bottom + 57);
      }
      if (spec.yTitle) {
        ctx.save();
        ctx.textAlign = "center";
        ctx.translate(28, (a.top + a.bottom) / 2);
        ctx.rotate(-Math.PI / 2);
        ctx.fillText(HIST_Y_TITLE, 0, 0);
        ctx.restore();
      }
      ctx.restore();
    },
  };
  return {
    type: "bar",
    data: { datasets },
    options: {
      animation: false,
      responsive: false,
      maintainAspectRatio: false,
      devicePixelRatio: 1,
      events: [],
      indexAxis: "y",
      layout: { padding: { left: 0, top: area.top, right: W - area.right, bottom: 0 } },
      plugins: { legend: { display: false }, tooltip: { enabled: false } },
      scales: {
        x: {
          type: "linear",
          min: 0,
          max: 150,
          reverse: negative,
          stacked: true,
          offset: false,
          afterBuildTicks: setTicks(COUNT_TICKS),
          ticks: { font: { size: 26 }, color: TEXT, padding: spec.labelPad, maxRotation: 0, autoSkip: false, callback: plainLabel },
          grid: { display: false, drawTicks: false, offset: false },
          border: { display: false },
          afterFit: fitX(H - area.bottom),
        },
        y: {
          type: "linear",
          min: negative ? -1 : 0,
          max: negative ? 0 : 1,
          stacked: true,
          offset: false,
          afterBuildTicks: setTicks(negative ? NEG_TICKS : POS_TICKS),
          ticks: { font: { size: 26 }, color: TEXT, padding: 9, autoSkip: false, callback: plainLabel },
          grid: { display: false, drawTicks: false, offset: false },
          border: { display: false },
          afterFit: fitY(area.left),
        },
      },
    },
    plugins: [decor],
  };
}

function ChartCanvas(props: { left: number; top: number; width: number; height: number; make: () => any }) {
  const ref = useRef<HTMLCanvasElement>(null);
  useEffect(() => {
    const chart = new Chart(ref.current as HTMLCanvasElement, props.make());
    return () => chart.destroy();
  }, []);
  return (
    <canvas
      ref={ref}
      width={props.width}
      height={props.height}
      style={{ position: "absolute", left: props.left, top: props.top, width: props.width, height: props.height }}
    />
  );
}

export default function App() {
  return (
    <div style={{ position: "absolute", left: 0, top: 0, width: 1133, height: 997, background: "#ffffff" }}>
      <ChartCanvas left={0} top={0} width={1133} height={500} make={() => makeMain(1133, 500)} />
      <ChartCanvas
        left={0}
        top={500}
        width={560}
        height={235}
        make={() =>
          makeHist({
            W: 560, H: 235, area: { left: 102, top: 22, right: 536, bottom: 192 },
            bins: POS_BINS, non: FIRST_POS_NON, dbl: FIRST_POS_DBL, negative: false,
            panel: "(b)", peak: "1st Pos. Peak", yTitle: true, counts: false, labelPad: 8,
          })
        }
      />
      <ChartCanvas
        left={560}
        top={500}
        width={573}
        height={235}
        make={() =>
          makeHist({
            W: 573, H: 235, area: { left: 113, top: 22, right: 547, bottom: 192 },
            bins: POS_BINS, non: SECOND_POS_NON, dbl: SECOND_POS_DBL, negative: false,
            panel: "(d)", peak: "2nd Pos. Peak", yTitle: false, counts: false, labelPad: 8,
          })
        }
      />
      <ChartCanvas
        left={0}
        top={735}
        width={560}
        height={262}
        make={() =>
          makeHist({
            W: 560, H: 262, area: { left: 102, top: 23, right: 536, bottom: 192 },
            bins: NEG_BINS, non: FIRST_NEG_NON, dbl: FIRST_NEG_DBL, negative: true,
            panel: "(c)", peak: "1st Neg. Peak", yTitle: true, counts: true, labelPad: 8,
          })
        }
      />
      <ChartCanvas
        left={560}
        top={735}
        width={573}
        height={262}
        make={() =>
          makeHist({
            W: 573, H: 262, area: { left: 113, top: 23, right: 547, bottom: 192 },
            bins: NEG_BINS, non: SECOND_NEG_NON, dbl: SECOND_NEG_DBL, negative: true,
            panel: "(e)", peak: "2nd Neg. Peak", yTitle: false, counts: true, labelPad: 8,
          })
        }
      />
    </div>
  );
}
